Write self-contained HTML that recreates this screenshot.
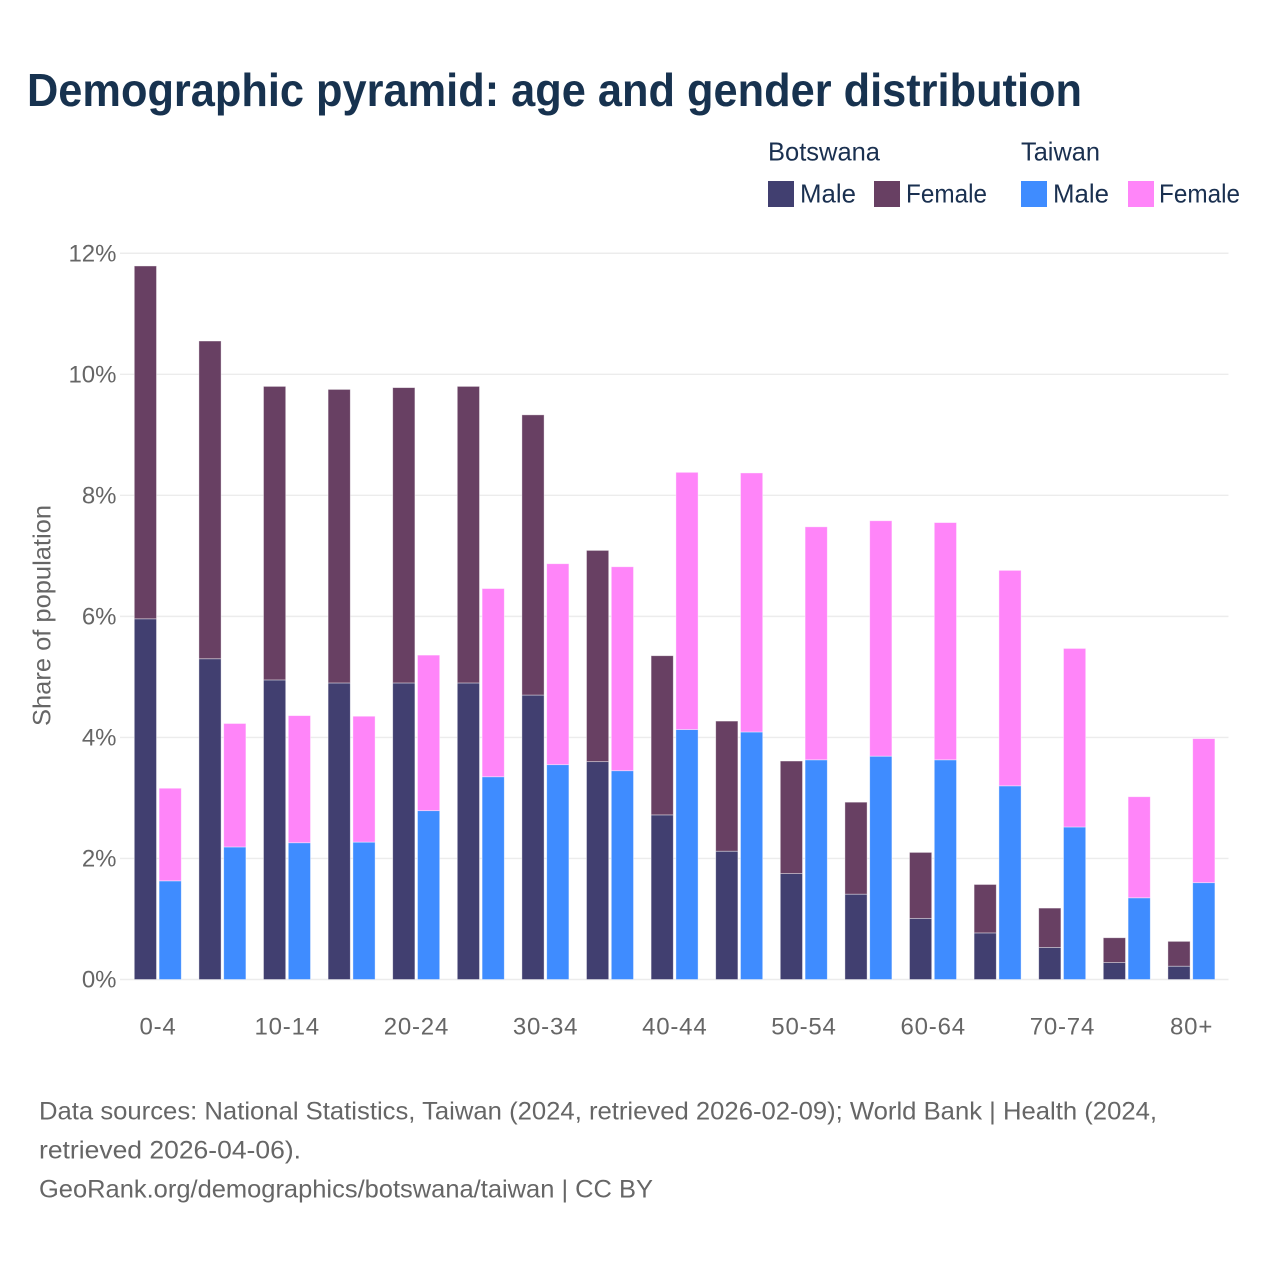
<!DOCTYPE html>
<html lang="en">
<head>
<meta charset="utf-8">
<title>Demographic pyramid</title>
<style>
html,body{margin:0;padding:0;background:#fff;width:1280px;height:1280px;overflow:hidden}
svg{display:block;font-family:"Liberation Sans",sans-serif}
</style>
</head>
<body>
<svg id="chart" xmlns="http://www.w3.org/2000/svg" width="1280" height="1280" viewBox="0 0 1280 1280">
  <rect x="0" y="0" width="1280" height="1280" fill="#fff"/>
  <text x="27" y="106" font-size="46" font-weight="700" fill="#17324f" textLength="1055" lengthAdjust="spacingAndGlyphs">Demographic pyramid: age and gender distribution</text>

  <g font-size="26" fill="#1a3050">
    <text x="768" y="160.500" textLength="112" lengthAdjust="spacingAndGlyphs">Botswana</text>
    <text x="1021" y="160.500" textLength="79" lengthAdjust="spacingAndGlyphs">Taiwan</text>
    <rect x="768" y="181" width="26" height="26" fill="#413f70"/>
    <text x="800" y="202.500" textLength="56" lengthAdjust="spacingAndGlyphs">Male</text>
    <rect x="874" y="181" width="26" height="26" fill="#684063"/>
    <text x="906" y="202.500" textLength="81" lengthAdjust="spacingAndGlyphs">Female</text>
    <rect x="1021" y="181" width="26" height="26" fill="#3f8cff"/>
    <text x="1053" y="202.500" textLength="56" lengthAdjust="spacingAndGlyphs">Male</text>
    <rect x="1128" y="181" width="26" height="26" fill="#ff85f9"/>
    <text x="1159" y="202.500" textLength="81" lengthAdjust="spacingAndGlyphs">Female</text>
  </g>

  <g id="grid"></g>
  <g id="yticks" font-size="24" fill="#666" text-anchor="end"></g>
  <g id="bars"></g>
  <g id="xticks" font-size="24" fill="#666" text-anchor="middle" letter-spacing="0.8"></g>

  <text transform="translate(50.500 615.500) rotate(-90)" font-size="25" fill="#666" text-anchor="middle" textLength="221" lengthAdjust="spacingAndGlyphs">Share of population</text>

  <g font-size="25" fill="#666">
    <text x="39" y="1119.500" textLength="1118" lengthAdjust="spacingAndGlyphs">Data sources: National Statistics, Taiwan (2024, retrieved 2026-02-09); World Bank | Health (2024,</text>
    <text x="39" y="1158.500" textLength="262" lengthAdjust="spacingAndGlyphs">retrieved 2026-04-06).</text>
    <text x="39" y="1197.500" textLength="614" lengthAdjust="spacingAndGlyphs">GeoRank.org/demographics/botswana/taiwan | CC BY</text>
  </g>
</svg>
<script>
const ageGroups = ["0-4","5-9","10-14","15-19","20-24","25-29","30-34","35-39","40-44","45-49","50-54","55-59","60-64","65-69","70-74","75-79","80+"];
const botswanaMale = [5.96,5.30,4.95,4.90,4.90,4.90,4.70,3.60,2.72,2.12,1.75,1.41,1.01,0.77,0.53,0.28,0.22];
const botswanaFemale = [5.83,5.25,4.85,4.85,4.88,4.90,4.63,3.49,2.63,2.15,1.86,1.52,1.09,0.80,0.65,0.41,0.41];
const taiwanMale = [1.63,2.19,2.26,2.27,2.79,3.35,3.55,3.45,4.13,4.09,3.63,3.69,3.63,3.20,2.52,1.35,1.60];
const taiwanFemale = [1.53,2.04,2.10,2.08,2.57,3.11,3.32,3.37,4.25,4.28,3.85,3.89,3.92,3.56,2.95,1.67,2.38];
const yTicks = [0,2,4,6,8,10,12];
const xTickLabels = ["0-4","10-14","20-24","30-34","40-44","50-54","60-64","70-74","80+"];

const NS = 'http://www.w3.org/2000/svg';
const yScale = v => 979.5 - v * 60.52;
const bandStart = i => 125.4 + i * 64.6;
const BAR_W = 22.2;
const BAR_OFFSET_A = 8.9;
const BAR_OFFSET_B = 33.7;

function svgEl(tag, parent) {
  const el = document.createElementNS(NS, tag);
  parent.appendChild(el);
  return el;
}

const grid = document.getElementById('grid');
const yTickGroup = document.getElementById('yticks');
yTicks.forEach(t => {
  const line = svgEl('line', grid);
  
  
  line.setAttribute('x1', 120);
  line.setAttribute('x2', 1228.5);
  line.setAttribute('y1', yScale(t));
  line.setAttribute('y2', yScale(t));
  line.setAttribute('stroke', '#ececec');
  line.setAttribute('stroke-width', 1.4);
  const label = svgEl('text', yTickGroup);
  
  
  label.setAttribute('x', 116.5);
  label.setAttribute('y', yScale(t) + 8.2);
  label.textContent = t + '%';
});

const barsGroup = document.getElementById('bars');
function drawBar(x, base, value, fill, name) {
  const rect = svgEl('rect', barsGroup);
  
  
  rect.setAttribute('x', x);
  rect.setAttribute('y', yScale(base + value));
  rect.setAttribute('width', BAR_W);
  rect.setAttribute('height', yScale(base) - yScale(base + value));
  rect.setAttribute('fill', fill);
  rect.setAttribute('stroke', '#fff');
  rect.setAttribute('stroke-opacity', '0.5');
  rect.setAttribute('stroke-width', '0.8');
}

ageGroups.forEach((g, i) => {
  const xa = bandStart(i) + BAR_OFFSET_A;
  const xb = bandStart(i) + BAR_OFFSET_B;
  drawBar(xa, 0, botswanaMale[i], '#413f70', 'bar-botswana-male');
  drawBar(xa, botswanaMale[i], botswanaFemale[i], '#684063', 'bar-botswana-female');
  drawBar(xb, 0, taiwanMale[i], '#3f8cff', 'bar-taiwan-male');
  drawBar(xb, taiwanMale[i], taiwanFemale[i], '#ff85f9', 'bar-taiwan-female');
});

const xTickGroup = document.getElementById('xticks');
xTickLabels.forEach(lab => {
  const i = ageGroups.indexOf(lab);
  const label = svgEl('text', xTickGroup);
  
  
  label.setAttribute('x', bandStart(i) + 32.6);
  label.setAttribute('y', 1034.5);
  label.textContent = lab;
});
</script>
</body>
</html>
